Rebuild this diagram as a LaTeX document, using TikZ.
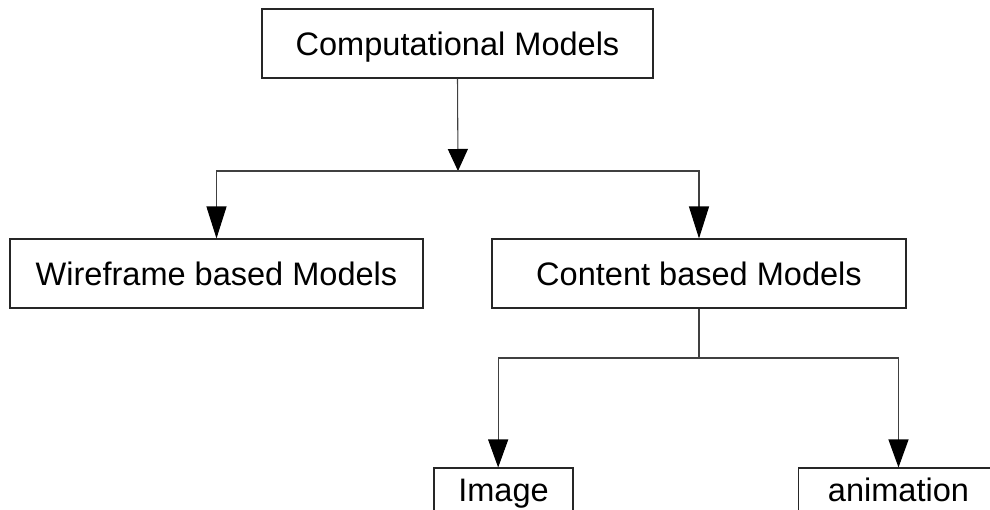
\documentclass[tikz,border=0pt]{standalone}
\usepackage{fontspec}
\setmainfont{Liberation Sans}
\usetikzlibrary{arrows.meta, positioning}

\begin{document}
\begin{tikzpicture}[
    x=0.75pt, y=-0.75pt,
    modelbox/.style={rectangle, draw=black!85, line width=0.8pt, inner sep=0pt, minimum height=51.75pt, text height=17.5pt, text depth=0pt, font=\fontsize{24.4}{28}\selectfont},
    leafbox/.style={modelbox, minimum height=32.25pt},
    arrow/.style={-{Triangle[length=#1, width=15pt, color=black, fill=black]}, line width=0.8pt, draw=black!75},
    arrow/.default=21pt,
    link/.style={line width=0.8pt, draw=black!75}
]
\useasboundingbox (0,0) rectangle (990,510);
\clip (0,0) rectangle (990,510);

\node[modelbox, minimum width=293.25pt] (comp) at (457.5,43.5) {Computational Models};
\node[modelbox, minimum width=309.75pt] (wire) at (216.5,273.5) {Wireframe based Models};
\node[modelbox, minimum width=310.5pt] (content) at (699,273.5) {Content based Models};
\node[leafbox, minimum width=104.25pt] (image) at (503.5,489.5) {Image};
\node[leafbox, minimum width=150pt] (anim) at (898.5,489.5) {animation};

\coordinate (fork) at (458,171);
\coordinate (subfork) at (699,358);

\draw[arrow=16.5pt] (comp.south) -- (fork);
\draw[arrow=24pt] (fork) -| (wire.north);
\draw[arrow=24pt] (fork) -| (content.north);

% second level
\draw[link] (content.south) -- (subfork);
\draw[arrow] (subfork) -| ([xshift=-4pt]image.north);
\draw[arrow] (subfork) -| (anim.north);

\end{tikzpicture}
\end{document}
